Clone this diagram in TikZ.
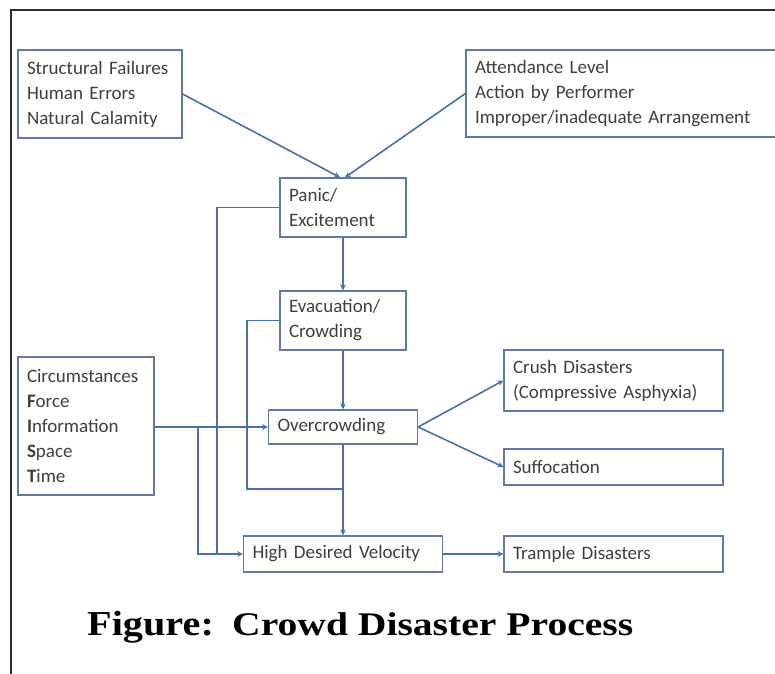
\documentclass[tikz,border=0pt]{standalone}
\usepackage{fontspec}
\setmainfont{Carlito}
\newfontfamily\titlefont{Liberation Serif}
\usepackage{xcolor}
\definecolor{linkblue}{RGB}{74,112,172}
\definecolor{boxblue}{RGB}{96,122,168}
\definecolor{txtgray}{RGB}{62,62,62}
\definecolor{framegray}{RGB}{45,45,45}
\usepackage{tikz}
\usetikzlibrary{positioning}

\begin{document}
\begin{tikzpicture}[x=1pt, y=-1pt,
    box/.style={draw=boxblue, line width=1.2pt, text=txtgray, align=left,
        inner xsep=9pt, inner ysep=0pt, font=\fontsize{19}{25}\selectfont},
    link/.style={draw=linkblue, line width=1.6pt},
    >=stealth]

% Canvas and frame
\useasboundingbox (0,0) rectangle (775,673);
\draw[framegray, line width=2pt] (11,690) -- (11,10) -- (790,10);

% Cause boxes
\node[box, text width=146pt, minimum height=88pt] (causes) at (100,94)
    {Structural Failures\\Human Errors\\Natural Calamity};
\node[box, text width=296pt, minimum height=87pt] (events) at (623,93.5)
    {Attendance Level\\Action by Performer\\Improper/inadequate Arrangement};
\node[box, text width=118pt, minimum height=138pt] (circ) at (86,426)
    {Circumstances\\\textbf{F}orce\\\textbf{I}nformation\\\textbf{S}pace\\\textbf{T}ime};

% Main chain
\node[box, text width=108pt, minimum height=59pt] (panic) at (343,207.5)
    {Panic/\\Excitement};
\node[box, text width=108pt, minimum height=59pt] (evac) at (343,320.5)
    {Evacuation/\\Crowding};
\node[box, text width=131pt, minimum height=34pt] (over) at (343,427)
    {Overcrowding};
\node[box, text width=181pt, minimum height=36pt] (hdv) at (343,554)
    {High Desired Velocity};

% Outcome boxes
\node[box, text width=201pt, minimum height=61pt] (crush) at (613.5,380.5)
    {Crush Disasters\\(Compressive Asphyxia)};
\node[box, text width=201pt, minimum height=36pt] (suff) at (613.5,467)
    {Suffocation};
\node[box, text width=201pt, minimum height=36pt] (trample) at (613.5,554)
    {Trample Disasters};

% Helper coordinates for the side lines
\coordinate (panicline) at (217,0);
\coordinate (evacline) at (247,0);
\coordinate (circline) at (198,0);
\coordinate (evacjoin) at (343,489);

% Connectors
\draw[link, ->] (causes.east) -- ([xshift=-3pt]panic.north);
\draw[link, ->] (events.west) -- ([xshift=2pt]panic.north);
\draw[link, ->] (panic.south) -- (evac.north);
\draw[link, ->] (evac.south) -- (over.north);
\draw[link, ->] (circ.east |- over.west) -- (over.west);
\draw[link, ->] (over.south) -- (hdv.north);
\draw[link, ->] (over.east) -- (crush.west);
\draw[link, ->] (over.east) -- (suff.west);
\draw[link, ->] (hdv.east) -- (trample.west);

% Side feedback lines into High Desired Velocity
\draw[link] (panic.west) -| (panicline |- hdv.west);
\draw[link, ->] (circline |- over.west) -- (circline |- hdv.west) -- (hdv.west);
\draw[link] (evac.west) -| (evacline |- evacjoin) -- (evacjoin);

% Caption
\node[anchor=base west, inner sep=0pt] (figlabel) at (87,635)
    {\titlefont\bfseries\fontsize{35}{40}\selectfont\scalebox{1.15}[1]{Figure:}};
\node[anchor=base west, inner sep=0pt] (figtitle) at (232,635)
    {\titlefont\bfseries\fontsize{33}{40}\selectfont\scalebox{1.2}[1]{Crowd Disaster Process}};

\end{tikzpicture}
\end{document}
